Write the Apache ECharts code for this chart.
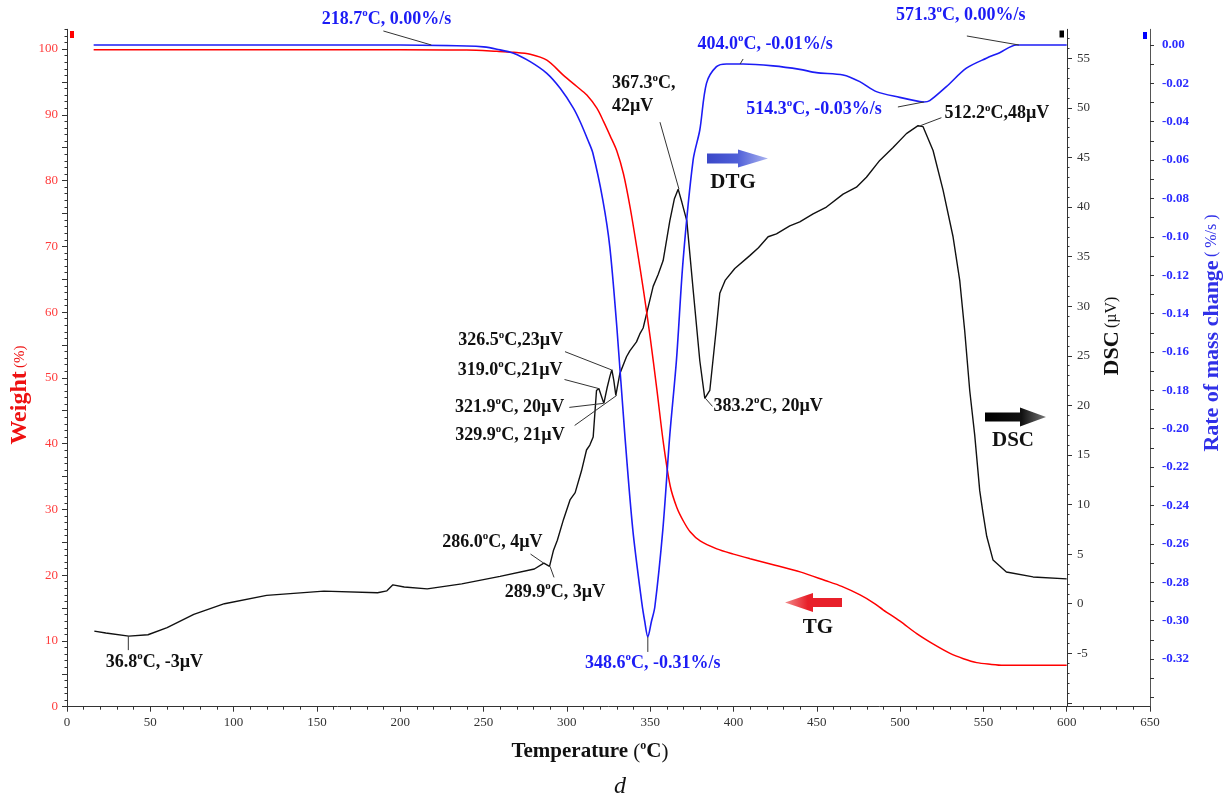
<!DOCTYPE html>
<html><head><meta charset="utf-8">
<script src="https://cdn.jsdelivr.net/npm/echarts@6/dist/echarts.min.js"></script>
<style>html,body{margin:0;padding:0;background:#fff}#c{width:1223px;height:800px}</style>
</head><body><div id="c"></div><script>
// ---- data ----
const tgTemp = [16,100,200,240,258,268,278,288,298,306,312,318,322,326,330,334,338,342,346,350,354,358,362,366,370,374,380,390,400,410,425,440,455,465,476,484,490,500,510,520,530,538,546,554,562,600];
const tgWeight = [99.9,99.9,99.9,99.85,99.65,99.5,99.2,98.3,96.0,94.3,93.0,91.0,89.0,86.8,84.5,81.0,75.9,69.8,63.3,56.2,48.3,40.0,33.6,30.3,28.2,26.6,25.2,24.0,23.2,22.5,21.5,20.5,19.2,18.3,17.0,15.8,14.7,13.0,11.1,9.5,8.1,7.3,6.7,6.45,6.3,6.3];

const dtgTemp = [16,200,240,250,258,268,278,288,296,304,308,312.6,315.6,321.6,325.8,330,334.8,339.6,345,346.8,348.6,350.7,352.8,357.6,361.8,365.8,369.8,375.8,379.8,383.8,389.8,395.8,405.8,423.8,439.8,449.8,465.8,475.8,485.8,499.8,511.8,514.3,517.8,527.8,539.8,551.8,559.8,569.8,600];
const dtgRate = [0,0,-0.0005,-0.001,-0.0022,-0.0043,-0.0087,-0.0148,-0.0226,-0.033,-0.040,-0.0495,-0.0563,-0.0808,-0.1053,-0.147,-0.2032,-0.2527,-0.2908,-0.3007,-0.3085,-0.3007,-0.2929,-0.2527,-0.2032,-0.1641,-0.112,-0.0599,-0.0443,-0.02,-0.0113,-0.0099,-0.0099,-0.0109,-0.0127,-0.0144,-0.0156,-0.0191,-0.0243,-0.0273,-0.0295,-0.0297,-0.029,-0.0217,-0.0121,-0.0069,-0.004,0,0];

const dscTemp = [16.4,23.3,37.1,48.6,60.1,76.1,94.5,119.8,154.2,186.4,192,195.6,202.4,216.2,236.9,259.9,280.5,286.2,289.6,292,294.3,298,302,305,308.8,311.8,313.8,315.8,317.8,319.2,322.2,324.2,325.8,327,328.2,329.4,331.8,335.8,337.8,341.8,343.8,345.8,347.8,351.8,354.8,357.8,361.8,364.5,366.8,369,372,376,379.8,382.8,385.8,389.8,391.8,395,400.8,409.8,415,420.8,425.8,433.8,439.8,447.8,455.8,465.8,473.8,479.8,487.8,495.8,503.8,510.8,513.8,519.8,525.8,531.8,535.8,538.8,541.8,544.8,547.8,549.8,552,555.8,563.8,579.8,600];
const dscSignal = [-2.76,-2.96,-3.27,-3.13,-2.42,-1.08,0,0.84,1.27,1.1,1.3,1.9,1.68,1.5,2.0,2.75,3.5,4.1,3.76,5.4,6.4,8.5,10.5,11.2,13.4,15.5,16,16.8,21.5,21.7,20.2,21.8,22.9,23.6,22.5,21.0,23.2,24.9,25.5,26.4,27.2,27.8,29.2,32.0,33.2,34.6,38.6,40.8,41.8,40.5,38.6,31.3,24.5,20.7,21.5,27.9,31.3,32.6,33.8,35.1,35.9,37.0,37.3,38.1,38.5,39.3,40.0,41.3,42.0,43.0,44.7,46.0,47.4,48.2,48.1,45.7,41.7,37.0,32.6,27.5,21.5,17.0,11.4,9.1,6.8,4.4,3.2,2.7,2.5];

const xTickLabels = [0,50,100,150,200,250,300,350,400,450,500,550,600,650];
const weightTickLabels = [0,10,20,30,40,50,60,70,80,90,100];
const dscTickLabels = [-5,0,5,10,15,20,25,30,35,40,45,50,55];
const dtgTickLabels = [-0.32,-0.30,-0.28,-0.26,-0.24,-0.22,-0.20,-0.18,-0.16,-0.14,-0.12,-0.10,-0.08,-0.06,-0.04,-0.02,0.00];

// point annotations: [temperature, value] on the named axis
const annotations = [
  {t:'218.7°C, 0.00%/s', c:'blue', ax:'dtg', x:218.7, y:0, lx:-48, ly:-14, tx:-45, ty:-26, al:'center'},
  {t:'404.0°C, -0.01%/s', c:'blue', ax:'dtg', x:404.0, y:-0.0099, lx:3, ly:-5, tx:25, ty:-20, al:'center'},
  {t:'571.3°C, 0.00%/s', c:'blue', ax:'dtg', x:571.3, y:0, lx:-52, ly:-9, tx:-58, ty:-30, al:'center'},
  {t:'514.3°C, -0.03%/s', c:'blue', ax:'dtg', x:514.3, y:-0.0297, lx:-26, ly:5, tx:-110, ty:7, al:'center'},
  {t:'348.6°C, -0.31%/s', c:'blue', ax:'dtg', x:348.6, y:-0.3085, lx:0, ly:15, tx:5, ty:26, al:'center'},
  {t:'367.3°C,\n42µV', c:'black', ax:'dsc', x:367.3, y:41.8, lx:-19, ly:-67, tx:-67, ty:-94, al:'left'},
  {t:'512.2°C,48µV', c:'black', ax:'dsc', x:512.2, y:48.2, lx:21, ly:-8, tx:24, ty:-12, al:'left'},
  {t:'383.2°C, 20µV', c:'black', ax:'dsc', x:383.2, y:20.7, lx:7, ly:8, tx:8, ty:8, al:'left'},
  {t:'326.5°C,23µV', c:'black', ax:'dsc', x:326.5, y:23.6, lx:-46, ly:-18, tx:-48, ty:-29, al:'right'},
  {t:'319.0°C,21µV', c:'black', ax:'dsc', x:319.0, y:21.7, lx:-34, ly:-9, tx:-36, ty:-18, al:'right'},
  {t:'321.9°C, 20µV', c:'black', ax:'dsc', x:321.9, y:20.2, lx:-34, ly:4, tx:-39, ty:4, al:'right'},
  {t:'329.9°C, 21µV', c:'black', ax:'dsc', x:329.9, y:21.0, lx:-42, ly:30, tx:-52, ty:40, al:'right'},
  {t:'286.0°C, 4µV', c:'black', ax:'dsc', x:286.0, y:4.1, lx:-13, ly:-9, tx:-1, ty:-21, al:'right'},
  {t:'289.9°C, 3µV', c:'black', ax:'dsc', x:289.9, y:3.76, lx:4, ly:11, tx:5, ty:26, al:'center'},
  {t:'36.8°C, -3µV', c:'black', ax:'dsc', x:36.8, y:-3.27, lx:0, ly:14, tx:26, ty:26, al:'center'}
];

// ---- styling ----
const SERIF = '"Liberation Serif","Times New Roman",serif';
const COL = {red:'#ff0000', blue:'#1c1cf5', black:'#111111'};
const zip = (a,b) => a.map((v,i)=>[v,b[i]]);
function steps(a,b,s){const r=[];const n=Math.round((b-a)/s);for(let i=0;i<=n;i++)r.push(+(a+i*s).toFixed(4));return r;}

const W_MIN=0, W_MAX=103.0, D_MIN=-10.385, D_MAX=57.92, R_MIN=-0.34486, R_MAX=0.00818;
const tickStyle = {color:'#333', width:1};

function yAxisPair(min,max,pos,offset,majorTicks,minorTicks,labels,labelStyle,majorLen,minorLen,lineColor){
  return [
    {type:'value', position:pos, offset:offset, min:min, max:max, scale:true,
      axisLine:{show:true, onZero:false, lineStyle:{color:lineColor, width:1}},
      axisTick:{show:true, customValues:majorTicks, length:majorLen, lineStyle:tickStyle},
      axisLabel:Object.assign({show:true, customValues:labels}, labelStyle),
      splitLine:{show:false}},
    {type:'value', position:pos, offset:offset, min:min, max:max, scale:true,
      axisLine:{show:false},
      axisTick:{show:true, customValues:minorTicks, length:minorLen, lineStyle:tickStyle},
      axisLabel:{show:false}, splitLine:{show:false}}
  ];
}

const yAxes = [].concat(
  yAxisPair(W_MIN,W_MAX,'left',0, steps(0,100,5), steps(0,103,1), weightTickLabels,
    {color:'#ff3b3b', fontFamily:SERIF, fontSize:13, margin:9}, 5, 2.5, '#333'),
  yAxisPair(D_MIN,D_MAX,'right',-83, steps(-10,55,5), steps(-10,57,1), dscTickLabels,
    {color:'#333', fontFamily:SERIF, fontSize:13, margin:10}, 5, 2.5, '#333'),
  yAxisPair(R_MIN,R_MAX,'right',0, steps(-0.34,0,0.02), steps(-0.34,0,0.01), dtgTickLabels,
    {color:'#2b2bff', fontFamily:SERIF, fontSize:13, fontWeight:'bold', margin:12,
     formatter:v=>(Math.abs(v)<1e-9?0:v).toFixed(2)}, 4, 4, '#555')
);
const AX = {weight:0, dsc:2, dtg:4};

const chart = echarts.init(document.getElementById('c'));
chart.setOption({
  animation:false,
  backgroundColor:'#fff',
  grid:{left:67, right:73, top:29.3, bottom:93.3, containLabel:false},
  xAxis:{type:'value', min:0, max:650, interval:50,
    axisLine:{show:true, onZero:false, lineStyle:{color:'#333'}},
    axisTick:{show:true, length:5, lineStyle:tickStyle},
    minorTick:{show:true, splitNumber:5, length:3, lineStyle:tickStyle},
    axisLabel:{color:'#333', fontFamily:SERIF, fontSize:13, margin:9,
      customValues:xTickLabels},
    splitLine:{show:false}},
  yAxis: yAxes,
  series:[
    {name:'DSC', type:'line', yAxisIndex:AX.dsc, data:zip(dscTemp,dscSignal), showSymbol:false,
      lineStyle:{color:COL.black, width:1.4}, z:3},
    {name:'TG', type:'line', yAxisIndex:AX.weight, data:zip(tgTemp,tgWeight), showSymbol:false,
      smooth:0.3, lineStyle:{color:COL.red, width:1.5}, z:4},
    {name:'DTG', type:'line', yAxisIndex:AX.dtg, data:zip(dtgTemp,dtgRate), showSymbol:false,
      smooth:0.3, lineStyle:{color:COL.blue, width:1.6}, z:5}
  ]
});

// ---- decorations / annotations ----
function richText(str, color, size, weight){
  const lines = str.split('\n').map(line => line.split('°').map(p => p ? '{a|'+p+'}' : '').join('{s|o}'));
  return {
    text: lines.join('\n'),
    rich:{
      a:{fill:color, fontFamily:SERIF, fontWeight:weight||'bold', fontSize:size, lineHeight:size+5},
      s:{fill:color, fontFamily:SERIF, fontWeight:weight||'bold', fontSize:Math.round(size*0.6), lineHeight:Math.round(size*0.75), verticalAlign:'top'}
    }
  };
}
const els = [];
annotations.forEach(a => {
  const p = chart.convertToPixel({xAxisIndex:0, yAxisIndex:AX[a.ax]}, [a.x, a.y]);
  els.push({type:'line', shape:{x1:p[0], y1:p[1], x2:p[0]+a.lx, y2:p[1]+a.ly}, style:{stroke:'#333', lineWidth:1}, z:50});
  const rt = richText(a.t, COL[a.c], 18);
  els.push({type:'text', x:p[0]+a.tx, y:p[1]+a.ty, z:60,
    style:{text:rt.text, rich:rt.rich, align:a.al, verticalAlign:'middle'}});
});

function arrow(x0, x1, yc, head, bodyH, headH, dir, fill){
  let pts;
  if (dir > 0) {
    const hb = x1 - head;
    pts = [[x0,yc-bodyH/2],[hb,yc-bodyH/2],[hb,yc-headH/2],[x1,yc],[hb,yc+headH/2],[hb,yc+bodyH/2],[x0,yc+bodyH/2]];
  } else {
    const hb = x0 + head;
    pts = [[x1,yc-bodyH/2],[hb,yc-bodyH/2],[hb,yc-headH/2],[x0,yc],[hb,yc+headH/2],[hb,yc+bodyH/2],[x1,yc+bodyH/2]];
  }
  return {type:'polygon', shape:{points:pts}, style:{fill:fill}, z:40};
}
els.push(arrow(707,768,158.5,30,10,18,1,
  new echarts.graphic.LinearGradient(0,0,1,0,[{offset:0,color:'#3a48c8'},{offset:0.5,color:'#4f5fd8'},{offset:1,color:'#aab3f0'}])));
els.push(arrow(785,842,602.5,28,9,19,-1,
  new echarts.graphic.LinearGradient(0,0,1,0,[{offset:0,color:'#f28b8b'},{offset:0.4,color:'#e8202a'},{offset:1,color:'#e8202a'}])));
els.push(arrow(985,1046,417,26,9,19,1,
  new echarts.graphic.LinearGradient(0,0,1,0,[{offset:0,color:'#000'},{offset:0.6,color:'#111'},{offset:1,color:'#777'}])));

function label(x,y,str,size,color,rot,align,weight){
  const rt = richText(str,color,size,weight);
  return {type:'text', x:x, y:y, rotation:rot||0, z:60,
    style:{text:rt.text, rich:rt.rich, align:align||'center', verticalAlign:'middle'}};
}
els.push(label(733,183,'DTG',21,'#111'));
els.push(label(818,628,'TG',21,'#111'));
els.push(label(1013,441,'DSC',21,'#111'));

// axis titles
els.push({type:'text', x:20, y:395, rotation:Math.PI/2, z:60,
  style:{text:'{b|Weight} {n|(%)}', align:'center', verticalAlign:'middle',
    rich:{b:{fill:'#ee1111', fontFamily:SERIF, fontWeight:'bold', fontSize:24},
          n:{fill:'#ee1111', fontFamily:SERIF, fontSize:15}}}});
els.push({type:'text', x:1112, y:336, rotation:Math.PI/2, z:60,
  style:{text:'{b|DSC} {n|(µV)}', align:'center', verticalAlign:'middle',
    rich:{b:{fill:'#111', fontFamily:SERIF, fontWeight:'bold', fontSize:22},
          n:{fill:'#111', fontFamily:SERIF, fontSize:16}}}});
els.push({type:'text', x:1212, y:333, rotation:Math.PI/2, z:60,
  style:{text:'{b|Rate of mass change} {n|( %/s )}', align:'center', verticalAlign:'middle',
    rich:{b:{fill:'#3030e8', fontFamily:SERIF, fontWeight:'bold', fontSize:22},
          n:{fill:'#3030e8', fontFamily:SERIF, fontSize:16}}}});
els.push({type:'text', x:590, y:752, z:60,
  style:{text:'{b|Temperature }{p|(}{s|o}{b|C}{p|)}', align:'center', verticalAlign:'middle',
    rich:{b:{fill:'#111', fontFamily:SERIF, fontWeight:'bold', fontSize:21, lineHeight:24},
          p:{fill:'#111', fontFamily:SERIF, fontSize:21, lineHeight:24},
          s:{fill:'#111', fontFamily:SERIF, fontWeight:'bold', fontSize:12, lineHeight:14, verticalAlign:'top'}}}});
els.push({type:'text', x:620, y:787, z:60,
  style:{text:'d', fill:'#111', font:'italic 24px '+SERIF, align:'center', verticalAlign:'middle'}});

// small axis colour markers at axis tops
els.push({type:'rect', shape:{x:70, y:31, width:4, height:7}, style:{fill:'#ff0000'}, z:60});
els.push({type:'rect', shape:{x:1059.5, y:30.5, width:4.5, height:7}, style:{fill:'#000'}, z:60});
els.push({type:'rect', shape:{x:1143, y:32, width:4, height:7}, style:{fill:'#0000ff'}, z:60});

chart.setOption({graphic:{elements:els}});
</script></body></html>
